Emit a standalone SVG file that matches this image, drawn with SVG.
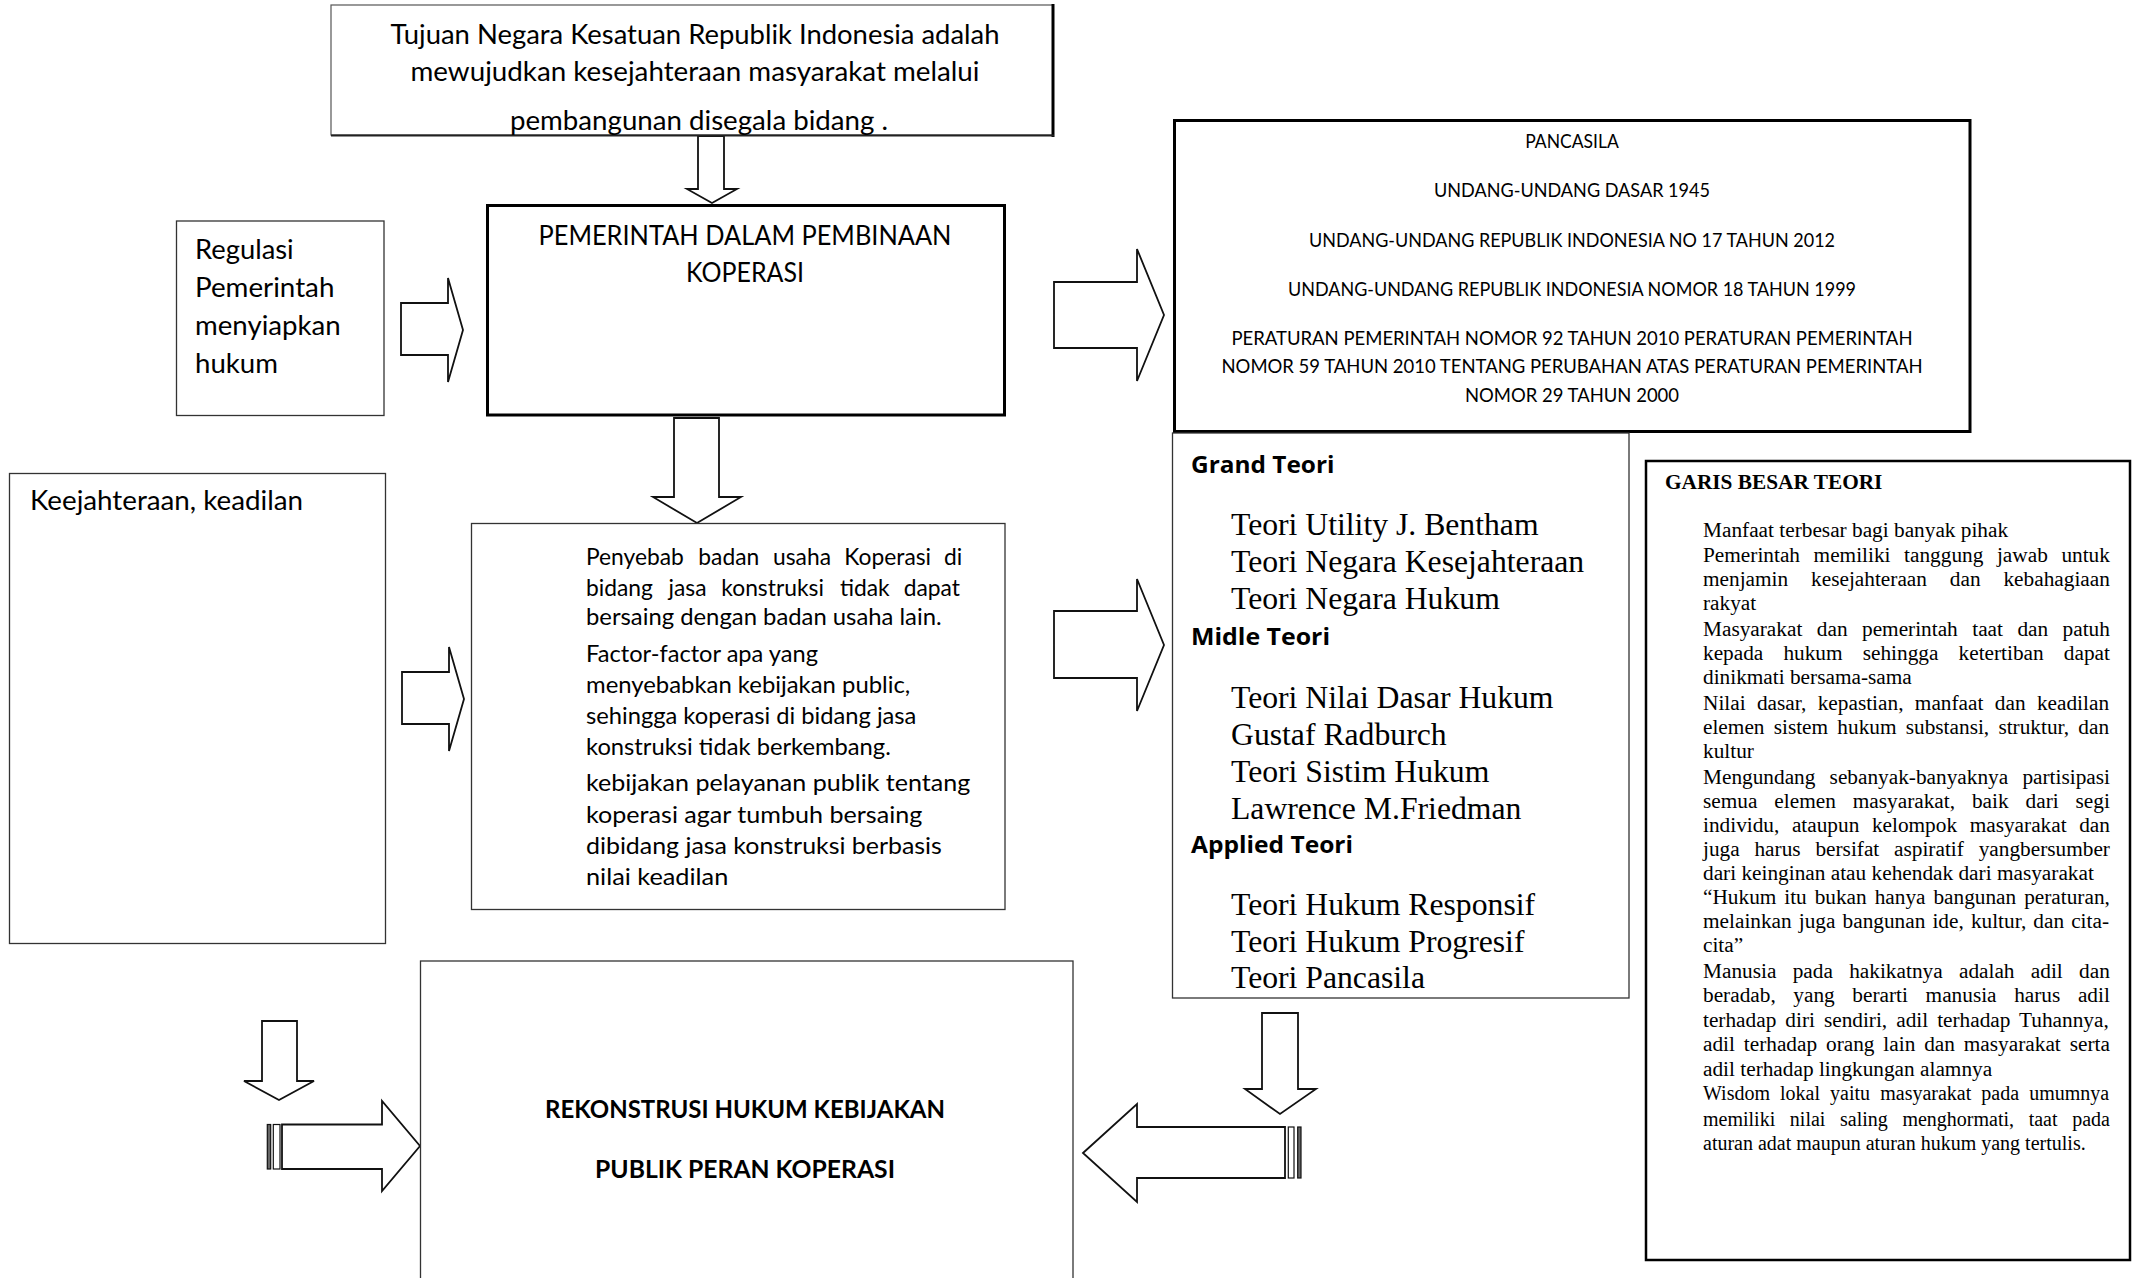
<svg xmlns="http://www.w3.org/2000/svg" width="2138" height="1278" viewBox="0 0 2138 1278">
<style>
.box{fill:#fff;stroke:#333;stroke-width:1.3}
.thick{fill:#fff;stroke:#000;stroke-width:3}
.arrow{fill:#fff;stroke:#111;stroke-width:1.8;stroke-linejoin:miter}
.stripe-d{fill:#666;stroke:#111;stroke-width:1.2}
.stripe-w{fill:#fff;stroke:#111;stroke-width:1.2}
.cal{font-family:Lato,"Open Sans",sans-serif;fill:#000}
.calb{font-family:Lato,"Open Sans",sans-serif;font-weight:700;fill:#000}
.hd{font-family:"Open Sans",Lato,sans-serif;font-weight:700;fill:#000;font-size:24px}
.tnr{font-family:"Liberation Serif","Times New Roman",serif;fill:#000}
.th{font-size:31.7px}
.gb{font-size:21.3px}
.gs{font-size:20px}
</style>
<rect width="2138" height="1278" fill="#fff"/>

<g id="connectors">
  <polygon class="arrow" points="698,136 724,136 724,189 737,189 712,203 687,189 698,189"/>
  <polygon class="arrow" points="401,303 448,303 448,278 463,330 448,382 448,355 401,355"/>
  <polygon class="arrow" points="674,418 719,418 719,497 741,497 697,523 653,497 674,497"/>
  <polygon class="arrow" points="1054,282 1137,282 1137,249 1164,315 1137,381 1137,348 1054,348"/>
  <polygon class="arrow" points="402,672 449,672 449,647 464,699 449,751 449,724 402,724"/>
  <polygon class="arrow" points="1054,611 1137,611 1137,579 1164,645 1137,711 1137,678 1054,678"/>
  <polygon class="arrow" points="262,1021 297,1021 297,1081 314,1081 279,1100 244,1081 262,1081"/>
  <rect class="stripe-d" x="267.3" y="1124.5" width="3.4" height="44.5"/>
  <rect class="stripe-w" x="273.3" y="1124.5" width="6.7" height="44.5"/>
  <polygon class="arrow" points="282,1124.5 382,1124.5 382,1101 420,1146 382,1191 382,1169 282,1169"/>
  <polygon class="arrow" points="1262,1013 1298,1013 1298,1089 1316,1089 1280,1114 1245,1089 1262,1089"/>
  <polygon class="arrow" points="1083,1153 1137,1104 1137,1127 1285,1127 1285,1178 1137,1178 1137,1202"/>
  <rect class="stripe-w" x="1288.3" y="1127" width="5.7" height="51"/>
  <rect class="stripe-d" x="1297.7" y="1127" width="3.3" height="51"/>
</g>

<g id="node-tujuan">
  <rect x="331" y="5" width="722" height="130" fill="#fff" stroke="#555" stroke-width="1.2"/>
  <line x1="1053" y1="4" x2="1053" y2="137" stroke="#000" stroke-width="3"/>
  <line x1="331" y1="135.5" x2="1054" y2="135.5" stroke="#222" stroke-width="2"/>
  <text class="cal" font-size="26.4" text-anchor="middle" x="695" y="44" textLength="609" lengthAdjust="spacingAndGlyphs">Tujuan Negara Kesatuan Republik Indonesia adalah</text>
  <text class="cal" font-size="26.4" text-anchor="middle" x="695" y="81" textLength="569" lengthAdjust="spacingAndGlyphs">mewujudkan kesejahteraan masyarakat melalui</text>
  <text class="cal" font-size="26.4" text-anchor="middle" x="699" y="130" textLength="378" lengthAdjust="spacingAndGlyphs">pembangunan disegala bidang .</text>
</g>

<g id="node-regulasi">
  <rect class="box" x="176.5" y="221" width="207.5" height="194.5"/>
  <text class="cal" font-size="26.4" x="195" y="259" textLength="98.7" lengthAdjust="spacingAndGlyphs">Regulasi</text>
  <text class="cal" font-size="26.4" x="195" y="297" textLength="139.4" lengthAdjust="spacingAndGlyphs">Pemerintah</text>
  <text class="cal" font-size="26.4" x="195" y="335" textLength="145.7" lengthAdjust="spacingAndGlyphs">menyiapkan</text>
  <text class="cal" font-size="26.4" x="195" y="373" textLength="83" lengthAdjust="spacingAndGlyphs">hukum</text>
</g>

<g id="node-pemerintah">
  <rect class="thick" x="487.5" y="205.5" width="517" height="209.5"/>
  <text class="cal" font-size="26.4" text-anchor="middle" x="745" y="245" textLength="413" lengthAdjust="spacingAndGlyphs">PEMERINTAH DALAM PEMBINAAN</text>
  <text class="cal" font-size="26.4" text-anchor="middle" x="745" y="282" textLength="118" lengthAdjust="spacingAndGlyphs">KOPERASI</text>
</g>

<g id="node-landasan">
  <rect class="thick" x="1174.5" y="120.5" width="795.5" height="311"/>
  <text class="cal" font-size="18.45" text-anchor="middle" x="1572" y="148" textLength="93.6" lengthAdjust="spacingAndGlyphs">PANCASILA</text>
  <text class="cal" font-size="18.45" text-anchor="middle" x="1572" y="197" textLength="276" lengthAdjust="spacingAndGlyphs">UNDANG-UNDANG DASAR 1945</text>
  <text class="cal" font-size="18.45" text-anchor="middle" x="1572" y="247" textLength="526" lengthAdjust="spacingAndGlyphs">UNDANG-UNDANG REPUBLIK INDONESIA NO 17 TAHUN 2012</text>
  <text class="cal" font-size="18.45" text-anchor="middle" x="1572" y="296" textLength="568" lengthAdjust="spacingAndGlyphs">UNDANG-UNDANG REPUBLIK INDONESIA NOMOR 18 TAHUN 1999</text>
  <text class="cal" font-size="19.2" text-anchor="middle" x="1572" y="345" textLength="681" lengthAdjust="spacingAndGlyphs">PERATURAN PEMERINTAH NOMOR 92 TAHUN 2010 PERATURAN PEMERINTAH</text>
  <text class="cal" font-size="19.2" text-anchor="middle" x="1572" y="373" textLength="701" lengthAdjust="spacingAndGlyphs">NOMOR 59 TAHUN 2010 TENTANG PERUBAHAN ATAS PERATURAN PEMERINTAH</text>
  <text class="cal" font-size="19.2" text-anchor="middle" x="1572" y="402" textLength="214" lengthAdjust="spacingAndGlyphs">NOMOR 29 TAHUN 2000</text>
</g>

<g id="node-kesejahteraan">
  <rect class="box" x="9.5" y="473.5" width="376" height="470"/>
  <text class="cal" font-size="26.4" x="30" y="510" textLength="273" lengthAdjust="spacingAndGlyphs">Keejahteraan, keadilan</text>
</g>

<g id="node-penyebab">
  <rect class="box" x="471.5" y="523.5" width="533.5" height="386"/>
  <text class="cal" font-size="22.8" y="565"><tspan x="586">Penyebab</tspan><tspan x="698.3">badan</tspan><tspan x="773">usaha</tspan><tspan x="844.3">Koperasi</tspan><tspan x="943.9">di</tspan></text>
  <text class="cal" font-size="22.8" y="596"><tspan x="586">bidang</tspan><tspan x="668.5">jasa</tspan><tspan x="721.3">konstruksi</tspan><tspan x="839.9">tidak</tspan><tspan x="903.7">dapat</tspan></text>
  <text class="cal" font-size="22.8" x="586" y="625" textLength="355.6" lengthAdjust="spacingAndGlyphs">bersaing dengan badan usaha lain.</text>
  <text class="cal" font-size="22.8" x="586" y="662" textLength="232" lengthAdjust="spacingAndGlyphs">Factor-factor apa yang</text>
  <text class="cal" font-size="22.8" x="586" y="693" textLength="324.3" lengthAdjust="spacingAndGlyphs">menyebabkan kebijakan public,</text>
  <text class="cal" font-size="22.8" x="586" y="724" textLength="330.4" lengthAdjust="spacingAndGlyphs">sehingga koperasi di bidang jasa</text>
  <text class="cal" font-size="22.8" x="586" y="755" textLength="304.8" lengthAdjust="spacingAndGlyphs">konstruksi tidak berkembang.</text>
  <text class="cal" font-size="24" x="586" y="791" textLength="384.3" lengthAdjust="spacingAndGlyphs">kebijakan pelayanan publik tentang</text>
  <text class="cal" font-size="24" x="586" y="823" textLength="336.3" lengthAdjust="spacingAndGlyphs">koperasi agar tumbuh bersaing</text>
  <text class="cal" font-size="24" x="586" y="854" textLength="355.9" lengthAdjust="spacingAndGlyphs">dibidang jasa konstruksi berbasis</text>
  <text class="cal" font-size="24" x="586" y="885" textLength="142.3" lengthAdjust="spacingAndGlyphs">nilai keadilan</text>
</g>

<g id="node-teori">
  <rect class="box" x="1172.5" y="433" width="456.5" height="565" stroke="#555"/>
  <text class="hd" x="1191" y="473" textLength="143.5" lengthAdjust="spacingAndGlyphs">Grand Teori</text>
  <text class="tnr th" x="1231" y="535">Teori Utility J. Bentham</text>
  <text class="tnr th" x="1231" y="572">Teori Negara Kesejahteraan</text>
  <text class="tnr th" x="1231" y="609">Teori Negara Hukum</text>
  <text class="hd" x="1191" y="645" textLength="139" lengthAdjust="spacingAndGlyphs">Midle Teori</text>
  <text class="tnr th" x="1231" y="708">Teori Nilai Dasar Hukum</text>
  <text class="tnr th" x="1231" y="745">Gustaf Radburch</text>
  <text class="tnr th" x="1231" y="782">Teori Sistim Hukum</text>
  <text class="tnr th" x="1231" y="819">Lawrence M.Friedman</text>
  <text class="hd" x="1191" y="853" textLength="162" lengthAdjust="spacingAndGlyphs">Applied Teori</text>
  <text class="tnr th" x="1231" y="915">Teori Hukum Responsif</text>
  <text class="tnr th" x="1231" y="952">Teori Hukum Progresif</text>
  <text class="tnr th" x="1231" y="988">Teori Pancasila</text>
</g>

<g id="node-garis-besar">
  <rect x="1646" y="461" width="484" height="799" fill="#fff" stroke="#000" stroke-width="2.5"/>
  <text class="tnr" font-size="21.3" font-weight="700" x="1665" y="489">GARIS BESAR TEORI</text>
  <text class="tnr gb" x="1703" y="537">Manfaat terbesar bagi banyak pihak</text>
  <text class="tnr gb" x="1703" y="562" word-spacing="8.27">Pemerintah memiliki tanggung jawab untuk</text>
  <text class="tnr gb" x="1703" y="586" word-spacing="17.57">menjamin kesejahteraan dan kebahagiaan</text>
  <text class="tnr gb" x="1703" y="610">rakyat</text>
  <text class="tnr gb" x="1703" y="636" word-spacing="9.12">Masyarakat dan pemerintah taat dan patuh</text>
  <text class="tnr gb" x="1703" y="660" word-spacing="14.8">kepada hukum sehingga ketertiban dapat</text>
  <text class="tnr gb" x="1703" y="684">dinikmati bersama-sama</text>
  <text class="tnr gb" x="1703" y="710" word-spacing="6.04">Nilai dasar, kepastian, manfaat dan keadilan</text>
  <text class="tnr gb" x="1703" y="734" word-spacing="3.9">elemen sistem hukum substansi, struktur, dan</text>
  <text class="tnr gb" x="1703" y="758">kultur</text>
  <text class="tnr gb" x="1703" y="784" word-spacing="8.9">Mengundang sebanyak-banyaknya partisipasi</text>
  <text class="tnr gb" x="1703" y="808" word-spacing="11.6">semua elemen masyarakat, baik dari segi</text>
  <text class="tnr gb" x="1703" y="832" word-spacing="7.25">individu, ataupun kelompok masyarakat dan</text>
  <text class="tnr gb" x="1703" y="856" word-spacing="9.48">juga harus bersifat aspiratif yangbersumber</text>
  <text class="tnr gb" x="1703" y="880">dari keinginan atau kehendak dari masyarakat</text>
  <text class="tnr gb" x="1703" y="904" word-spacing="2.6">“Hukum itu bukan hanya bangunan peraturan,</text>
  <text class="tnr gb" x="1703" y="928" word-spacing="1.77">melainkan juga bangunan ide, kultur, dan cita-</text>
  <text class="tnr gb" x="1703" y="952">cita”</text>
  <text class="tnr gb" x="1703" y="978" word-spacing="11">Manusia pada hakikatnya adalah adil dan</text>
  <text class="tnr gb" x="1703" y="1002" word-spacing="12.3">beradab, yang berarti manusia harus adil</text>
  <text class="tnr gb" x="1703" y="1027" word-spacing="3.68">terhadap diri sendiri, adil terhadap Tuhannya,</text>
  <text class="tnr gb" x="1703" y="1051" word-spacing="3.55">adil terhadap orang lain dan masyarakat serta</text>
  <text class="tnr gb" x="1703" y="1076">adil terhadap lingkungan alamnya</text>
  <text class="tnr gs" x="1703" y="1100" word-spacing="5.08">Wisdom lokal yaitu masyarakat pada umumnya</text>
  <text class="tnr gs" x="1703" y="1126" word-spacing="9.62">memiliki nilai saling menghormati, taat pada</text>
  <text class="tnr gs" x="1703" y="1150">aturan adat maupun aturan hukum yang tertulis.</text>
</g>

<g id="node-rekonstruksi">
  <rect class="box" x="420.5" y="961" width="652.5" height="330"/>
  <text class="calb" font-size="25.6" text-anchor="middle" x="745" y="1118" textLength="400" lengthAdjust="spacingAndGlyphs">REKONSTRUSI HUKUM KEBIJAKAN</text>
  <text class="calb" font-size="25.6" text-anchor="middle" x="745" y="1178" textLength="300" lengthAdjust="spacingAndGlyphs">PUBLIK PERAN KOPERASI</text>
</g>
</svg>
